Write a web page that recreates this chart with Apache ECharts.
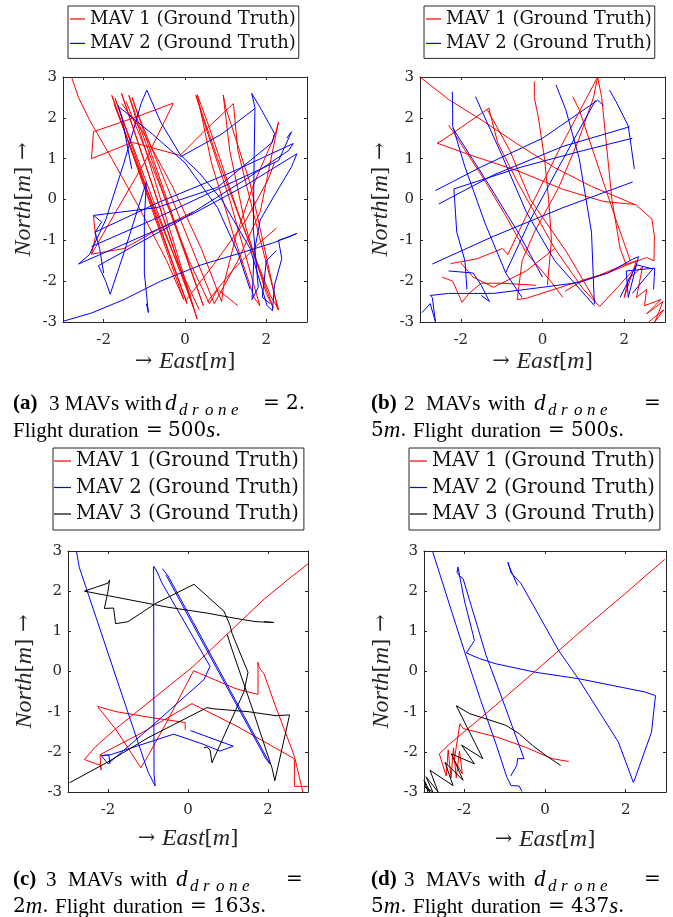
<!DOCTYPE html>
<html>
<head>
<meta charset="utf-8">
<script src="https://cdn.jsdelivr.net/npm/echarts@6/dist/echarts.min.js"></script>
<style>
html, body { margin: 0; padding: 0; background: #fff; }
#chart { width: 673px; height: 917px; }
</style>
</head>
<body>
<div id="chart"></div>
<script>
// axis ranges and ticks
const AXIS_MIN = -3
const AXIS_MAX = 3
const xTicks = [-2, 0, 2]
const yTicks = [-3, -2, -1, 0, 1, 2, 3]
const mavNames = ['MAV 1 (Ground Truth)', 'MAV 2 (Ground Truth)', 'MAV 3 (Ground Truth)']
const mavColors = ['#ff0000', '#0000ff', '#000000']

// (a) trajectories, [east, north] in m, one list per continuous piece
const a_mav1 = [
  [[-2.79,3.0],[-2.62,2.5],[-2.35,1.95],[-1.8,1.0],[-1.1,-0.25],[-0.45,-1.5],[-0.03,-2.45],[-1.8,2.55],[0.05,-2.55],[-1.72,2.48],[-1.62,2.2],[0.2,-2.62],[-1.56,2.6],[0.3,-2.93],[-1.38,2.55],[0.45,-2.6],[-1.3,2.5],[-1.2,2.2],[0.72,-2.55],[1.3,-1.5],[1.85,-0.3],[2.3,1.9],[2.22,1.6],[1.7,0.4],[1.25,-0.9],[0.95,-2.1],[0.9,-2.5],[0.4,-1.2],[-0.3,0.3],[-1.0,1.6],[-1.56,2.35]],
  [[-0.29,2.36],[-1.2,2.02],[-2.25,1.66],[-2.3,1.0],[-1.3,1.4],[-0.12,1.08],[0.5,1.7],[1.19,2.35],[1.3,1.2],[1.8,-0.8],[2.3,-2.7],[2.1,-2.35],[1.4,-0.6],[0.8,1.0],[0.27,2.55],[0.5,1.8],[1.1,0.0],[1.84,-2.6],[1.7,-2.4],[1.2,-0.9],[0.65,0.9],[0.3,2.57],[0.55,1.9],[1.3,-0.3],[2.17,-2.65],[2.0,-2.3],[1.5,-0.7],[1.1,1.2],[0.94,2.56],[1.0,2.25],[1.6,0.4],[2.0,-1.4],[2.28,-2.7]],
  [[-2.3,-1.34],[-1.7,-0.3],[-1.0,0.9],[-0.29,2.35]],
  [[0.0,-2.5],[0.7,-1.6],[1.5,-0.5],[2.05,0.5],[2.2,0.9]],
  [[0.55,-2.5],[1.2,-1.7],[1.9,-1.0],[2.25,-0.7]],
  [[-1.75,2.35],[-1.0,0.4],[-0.3,-1.3],[0.35,-2.7]],
  [[-2.25,-0.4],[-2.2,-0.9],[-2.3,-1.34],[-1.5,-1.2],[-0.6,-0.7],[0.2,-0.3]],
  [[-1.45,2.4],[-0.6,0.3],[0.1,-1.5],[0.6,-2.55],[0.8,-2.2],[1.3,-2.6]]
]
const a_mav2 = [
  [[-2.99,-2.98],[-2.3,-2.78],[-1.5,-2.45],[-0.6,-2.0],[0.4,-1.6],[1.4,-1.3],[2.2,-1.05],[2.75,-0.83],[2.6,-0.9],[2.3,-1.0],[2.38,-1.45],[2.2,-2.1],[2.15,-2.72],[2.02,-2.6],[1.6,-1.2],[0.9,0.0],[0.35,0.65],[-0.12,1.1],[-0.6,1.9],[-0.94,2.68],[-1.08,2.35],[-1.5,0.9],[-1.95,-0.5],[-2.35,-1.35],[-2.62,-1.58],[-1.4,-1.05],[0.2,-0.35],[1.5,0.35],[2.75,1.12],[2.62,0.8],[2.2,0.1],[1.85,-0.5],[1.7,-1.3],[1.65,-2.45],[1.8,-2.15],[1.68,-0.72],[1.7,1.0],[1.72,2.25],[1.64,2.6],[1.85,2.25],[2.2,1.62],[2.15,1.4],[0.8,0.3],[-0.7,-0.2],[-2.25,-0.39],[-2.05,-0.55],[-2.21,-0.8],[-0.6,-0.05],[1.1,0.65],[2.66,1.37],[2.55,1.2],[1.5,0.5],[-0.1,-0.5],[-2.13,-1.62],[-1.95,-2.0],[-1.84,-2.32],[-1.5,-1.3],[-0.95,0.43],[-1.0,-0.5],[-1.0,-1.8],[-0.9,-2.77],[-0.95,-2.55]],
  [[-1.64,2.31],[-1.55,2.0],[-1.31,0.75]],
  [[-1.6,2.25],[-0.8,1.6],[0.0,0.9],[0.8,-0.2],[1.3,-1.3],[1.6,-2.2]],
  [[1.72,2.23],[0.9,1.6],[-0.12,1.04]],
  [[-2.3,-1.15],[-0.8,-0.5],[0.9,0.3],[2.3,0.95],[2.62,1.66],[2.5,1.5]],
  [[-2.21,-0.8],[-2.1,-1.2],[-2.0,-1.8]],
  [[2.25,-1.25],[2.0,-1.5],[1.9,-2.4],[2.1,-2.55]]
]

// (b)
const b_mav1 = [
  [[-3.0,3.0],[-2.3,2.45],[-1.5,1.95],[-0.6,1.35],[0.3,0.78],[1.2,0.32],[1.9,0.03],[2.3,-0.14],[2.68,-0.48],[2.74,-0.9],[2.73,-1.5],[2.55,-1.42],[2.2,-1.55],[1.6,-1.8],[1.0,-1.98],[0.55,-2.25]],
  [[1.35,3.0],[1.25,2.5],[0.9,1.5],[0.4,0.3],[-0.2,-0.8],[-0.5,-1.5],[-0.62,-2.45],[-0.4,-2.42],[0.6,-2.1],[1.4,-1.85],[2.0,-1.6],[2.3,-1.5]],
  [[-2.58,1.38],[-2.45,1.45],[-1.31,2.24],[-1.28,2.1],[-1.1,1.4],[-0.6,0.4],[0.3,-1.2],[1.0,-2.2],[1.4,-2.62],[1.7,-2.3],[2.2,-1.75]],
  [[-2.58,1.38],[-1.8,1.1],[-0.6,0.7],[0.5,0.25],[1.5,-0.05],[2.25,-0.12]],
  [[-2.3,1.82],[-2.15,1.6],[-1.5,0.6],[-0.9,-0.4],[-0.4,-1.3],[0.2,-2.0],[0.5,-2.4]],
  [[-0.2,2.89],[-0.2,2.5],[-0.1,2.0],[0.05,1.0],[0.15,0.0],[0.22,-1.0],[0.12,-2.1]],
  [[0.74,2.52],[0.9,2.2],[1.3,1.0],[1.8,-0.5],[2.15,-1.5]],
  [[-2.46,-1.9],[-2.2,-2.0],[-1.97,-2.52],[-1.8,-2.3],[-1.5,-2.05],[-1.0,-2.05],[-0.16,-2.1]],
  [[-2.25,-1.57],[-1.6,-1.45],[-0.98,-1.2],[-0.85,-1.35],[-0.3,-0.2],[0.4,1.2],[1.35,3.0],[1.45,2.5],[1.55,1.5],[1.7,0.0],[1.9,-1.2],[2.05,-1.6]],
  [[2.3,-1.5],[2.0,-2.4],[2.1,-1.95],[2.45,-1.65],[2.3,-2.4],[2.55,-2.2],[2.5,-2.6],[2.9,-2.45],[2.55,-2.8],[2.95,-2.5],[2.75,-3.0],[2.97,-2.7],[2.6,-3.0]],
  [[-1.35,2.2],[-0.8,1.2],[-0.3,0.0],[0.6,-1.3],[1.3,-2.5]],
  [[-2.0,-1.55],[-1.7,-1.9],[-1.2,-2.15],[-0.4,-1.75],[0.3,-1.2]]
]
const b_mav2 = [
  [[-2.95,-2.77],[-2.75,-2.55],[-2.62,-3.0],[-2.7,-2.4],[-2.75,-2.35],[-2.3,-2.3],[-1.2,-2.3],[0.0,-2.15],[0.9,-2.03],[1.6,-1.8],[2.21,-1.46],[2.35,-1.4],[2.1,-2.4],[2.05,-1.75],[2.75,-1.68],[2.72,-2.2]],
  [[-2.21,2.64],[-2.2,2.2],[-2.2,1.8],[-1.9,0.8],[-1.4,-0.6],[-0.9,-1.8],[-0.5,-2.4]],
  [[-1.64,2.52],[-1.5,2.2],[-1.0,1.1],[-0.4,-0.3],[0.3,-1.5],[1.27,-2.6]],
  [[-2.62,0.22],[-1.5,0.8],[0.0,1.5],[1.35,2.43],[1.5,2.3]],
  [[-2.54,-0.11],[-1.2,0.6],[0.5,1.3],[2.13,1.78]],
  [[-2.17,0.26],[-0.5,0.8],[1.0,1.2],[2.2,1.5]],
  [[-2.7,-1.58],[-1.2,-0.9],[0.5,-0.2],[2.21,0.43]],
  [[1.64,2.68],[1.8,2.4],[2.1,1.8],[2.25,0.75]],
  [[0.33,2.81],[0.57,2.2],[0.9,1.0],[1.2,-0.8],[1.27,-2.56]],
  [[-0.9,-1.79],[-0.3,-0.5],[0.4,0.8],[1.3,2.43]],
  [[-2.3,-1.75],[-1.7,-1.8],[-1.5,-2.1],[-1.3,-2.5],[-1.5,-2.35]],
  [[-2.17,0.26],[-2.1,-0.8],[-1.9,-1.5],[-1.85,-2.2]],
  [[-2.2,1.75],[-1.4,0.5],[-0.6,-0.8],[0.0,-1.9]],
  [[1.9,-2.4],[2.3,-1.6],[2.7,-1.7],[2.2,-2.3]]
]

// (c)
const c_mav1 = [
  [[3.0,2.68],[2.6,2.37],[1.9,1.8],[1.0,0.95],[0.1,0.1],[-1.0,-0.78],[-1.8,-1.42],[-2.3,-1.86],[-2.59,-2.19],[-2.3,-2.3],[-2.2,-2.32],[-2.17,-2.45],[-2.2,-2.07],[-1.2,-1.55],[0.1,-0.8],[1.2,-1.35],[2.0,-1.8],[2.62,-2.15],[2.66,-2.2],[2.66,-2.86],[3.0,-2.86]],
  [[-2.26,-0.87],[-1.8,-1.0],[-0.9,-1.15],[-0.07,-1.27],[-0.07,-1.45]],
  [[-2.26,-0.87],[-1.8,-1.45],[-1.5,-1.9],[-1.18,-2.4],[-1.0,-2.1],[-0.5,-1.2],[0.14,0.02],[0.3,-0.05],[1.2,-0.43],[1.75,-0.57],[1.75,0.23],[1.78,0.1],[1.9,-0.06],[2.2,-0.9],[2.62,-2.0],[2.67,-2.15],[2.87,-3.0]]
]
const c_mav2 = [
  [[-2.79,3.0],[-2.72,2.6],[-2.3,1.35],[-1.6,-0.73],[-1.0,-2.5],[-0.82,-2.85],[-0.85,-2.55],[-0.86,2.62],[-0.78,2.5],[-0.65,2.2],[0.55,0.13],[0.4,-0.2],[-0.93,-1.38],[-2.0,-2.3],[-2.17,-2.09],[-1.98,-2.08],[-1.95,-2.3]],
  [[-0.64,2.56],[-0.5,2.38],[2.05,-2.3],[1.95,-2.18],[-0.55,2.4]],
  [[0.06,-1.47],[1.13,-1.86],[0.8,-1.98],[0.35,-1.8],[-0.36,-1.56],[-1.93,-2.07],[-2.17,-2.1]]
]
const c_mav3 = [
  [[-2.96,-2.77],[-2.0,-2.25],[-1.0,-1.65],[0.47,-0.9],[0.65,-0.93],[1.5,-1.0],[2.2,-1.1],[2.54,-1.08],[2.17,-2.72],[2.1,-2.4],[1.6,-0.9],[1.1,0.55],[0.98,0.92]],
  [[1.05,1.15],[1.1,0.95],[1.5,-0.02],[1.4,-0.5],[0.6,-2.27],[0.55,-1.95],[0.47,-1.88],[0.4,-1.9]],
  [[1.05,1.15],[0.9,1.5],[0.15,2.17],[-0.8,1.7],[-1.5,1.24],[-1.81,1.19],[-1.86,1.58],[-2.09,1.57],[-2.0,2.0],[-1.96,2.28],[-2.0,2.2],[-2.59,2.0],[-1.8,1.85],[-0.5,1.6],[0.5,1.45],[1.2,1.32],[1.7,1.24],[2.15,1.22],[1.9,1.24]]
]

// (d)
const d_mav1 = [
  [[2.97,2.79],[2.64,2.51],[2.0,1.95],[1.0,1.1],[0.0,0.22],[-1.0,-0.65],[-1.8,-1.33],[-2.36,-1.8],[-2.62,-2.05],[-2.45,-2.6],[-2.4,-1.95],[-2.33,-2.65],[-2.27,-1.9],[-2.2,-2.65],[-2.12,-1.98],[-2.05,-2.55],[-2.25,-2.2],[-2.11,-1.3],[-2.03,-1.42],[-1.2,-1.63],[-0.5,-1.88],[0.18,-2.17],[0.59,-2.24]]
]
const d_mav2 = [
  [[-2.79,3.0],[-2.6,2.4],[-2.3,1.45],[-1.99,0.48],[-1.6,-0.7],[-1.2,-1.85],[-0.95,-2.62],[-0.84,-2.84],[-0.64,-2.85],[-0.57,-2.99]],
  [[-0.68,2.14],[-0.86,2.55],[-0.92,2.72],[-0.84,2.45],[-0.6,2.2],[0.34,0.52],[0.84,-0.2],[1.82,-1.76],[2.19,-2.76],[2.23,-2.67],[2.64,-1.51],[2.74,-0.6],[2.48,-0.51],[0.84,-0.18],[-0.23,-0.02],[-1.21,0.19],[-1.62,0.32],[-1.95,0.46],[-1.75,0.77],[-1.79,0.94],[-1.99,1.73],[-2.16,2.6],[-2.18,2.47],[-2.13,2.39],[-2.03,2.31],[-1.46,0.4],[-0.97,-0.93],[-0.64,-1.84],[-0.52,-2.17],[-0.68,-2.17],[-0.7,-2.34],[-0.85,-2.6]]
]
const d_mav3 = [
  [[0.39,-2.34],[0.02,-2.09],[-0.31,-1.84],[-0.64,-1.55],[-0.97,-1.34],[-1.46,-1.18],[-1.87,-1.05],[-2.2,-0.85],[-1.54,-2.17],[-2.07,-1.83],[-1.75,-2.3],[-2.32,-2.05],[-2.03,-2.71],[-2.48,-2.26],[-2.28,-2.84],[-2.85,-2.46],[-2.65,-3.0],[-2.95,-2.62],[-2.78,-3.0],[-3.0,-2.85],[-2.85,-3.0],[-3.0,-2.7],[-2.9,-3.0]]
]

const AXIS_COLOR = '#262626'
const SERIF = 'DejaVu Serif'
const TIMES = 'Liberation Serif'

const panels = [
  { grid: { left: 63, top: 77, width: 244, height: 245 }, xGap: 28, yGap: 27, mavs: [a_mav1, a_mav2],
    legend: { left: 68, top: 6, fontSize: 18, lineHeight: 22, gap: 2.4, iconW: 15, padding: [2, 3, 4, 2] } },
  { grid: { left: 420, top: 77, width: 245, height: 245 }, xGap: 28, yGap: 27, mavs: [b_mav1, b_mav2],
    legend: { left: 424, top: 6, fontSize: 18, lineHeight: 22, gap: 2.4, iconW: 15, padding: [2, 3, 4, 2] } },
  { grid: { left: 68, top: 551, width: 240, height: 241 }, xGap: 35, yGap: 31, mavs: [c_mav1, c_mav2, c_mav3],
    legend: { left: 53, top: 448, fontSize: 19.5, lineHeight: 24, gap: 2.5, iconW: 17, padding: [1, 5, 4, 1] } },
  { grid: { left: 424, top: 551, width: 242, height: 241 }, xGap: 36, yGap: 30, mavs: [d_mav1, d_mav2, d_mav3],
    legend: { left: 409, top: 448, fontSize: 19.5, lineHeight: 24, gap: 2.5, iconW: 17, padding: [1, 5, 4, 1] } }
]

const nameRich = {
  i: { fontFamily: TIMES, fontStyle: 'italic', fontSize: 24, color: '#262626' }
}

const grid = [], xAxis = [], yAxis = [], series = [], legend = []
panels.forEach((p, i) => {
  grid.push(Object.assign({ containLabel: false }, p.grid))
  const common = {
    gridIndex: i, type: 'value', min: AXIS_MIN, max: AXIS_MAX, interval: 1,
    splitLine: { show: false },
    axisLine: { show: true, onZero: false, lineStyle: { color: AXIS_COLOR, width: 1 } }
  }
  xAxis.push(Object.assign({}, common, {
    position: 'bottom',
    axisTick: { show: true, inside: true, length: 3, customValues: xTicks, lineStyle: { color: AXIS_COLOR } },
    axisLabel: { customValues: xTicks, margin: 11, fontFamily: SERIF, fontSize: 15, color: AXIS_COLOR, formatter: v => String(v) },
    name: '→ {i|East}[{i|m}]', nameLocation: 'middle', nameGap: p.xGap,
    nameTextStyle: { fontFamily: SERIF, fontSize: 21, color: '#262626', rich: nameRich }
  }))
  xAxis.push(Object.assign({}, common, {
    position: 'top',
    axisTick: { show: true, inside: true, length: 3, customValues: xTicks, lineStyle: { color: AXIS_COLOR } },
    axisLabel: { show: false }
  }))
  yAxis.push(Object.assign({}, common, {
    position: 'left',
    axisTick: { show: true, inside: true, length: 3, lineStyle: { color: AXIS_COLOR } },
    axisLabel: { margin: 6, fontFamily: SERIF, fontSize: 15, color: AXIS_COLOR, formatter: v => String(v) },
    name: '{i|North}[{i|m}] →', nameLocation: 'middle', nameGap: p.yGap, nameRotate: 90,
    nameTextStyle: { fontFamily: SERIF, fontSize: 21, color: '#262626', rich: nameRich }
  }))
  yAxis.push(Object.assign({}, common, {
    position: 'right',
    axisTick: { show: true, inside: true, length: 3, lineStyle: { color: AXIS_COLOR } },
    axisLabel: { show: false }
  }))

  p.mavs.forEach((pieces, m) => {
    pieces.forEach(seg => {
      series.push({
        type: 'line', name: mavNames[m], data: seg,
        xAxisIndex: 2 * i, yAxisIndex: 2 * i,
        showSymbol: false, symbol: 'none', smooth: false, clip: true,
        color: mavColors[m],
        lineStyle: { color: mavColors[m], width: 1 },
        emphasis: { disabled: true }
      })
    })
  })

  const L = p.legend
  legend.push({
    data: mavNames.slice(0, p.mavs.length),
    orient: 'vertical', left: L.left, top: L.top,
    icon: 'rect', itemWidth: L.iconW, itemHeight: 1.2, itemGap: L.gap,
    padding: L.padding, borderColor: AXIS_COLOR, borderWidth: 1, backgroundColor: '#fff',
    selectedMode: false,
    textStyle: { fontFamily: SERIF, fontSize: L.fontSize, lineHeight: L.lineHeight, color: '#111' }
  })
})

// captions (sub-figure labels)
const capRich = {
  b: { fontFamily: TIMES, fontSize: 21, fontWeight: 'bold', fill: '#000' },
  r: { fontFamily: TIMES, fontSize: 21, fill: '#000' },
  m: { fontFamily: SERIF, fontSize: 20, fill: '#000' },
  mi: { fontFamily: TIMES, fontSize: 23, fontStyle: 'italic', fill: '#000' }
}
function capText(x, y, text) {
  return { type: 'text', x: x, y: y, silent: true,
    style: { text: text, rich: capRich, verticalAlign: 'middle', fontFamily: TIMES, fontSize: 21, fill: '#000' } }
}
function subText(x, y, word) {
  return word.split('').map((ch, k) => ({ type: 'text', x: x + k * 13, y: y, silent: true,
    style: { text: ch, fontFamily: TIMES, fontSize: 17, fontStyle: 'italic', fill: '#000', verticalAlign: 'middle' } }))
}
function captionLine1(x0, y, tag, n) {
  return [
    capText(x0, y, '{b|(' + tag + ')}'),
    capText(x0 + 33, y, '{r|' + n + '}'),
    capText(x0 + 55, y, '{r|MAVs}'),
    capText(x0 + 117, y, '{r|with}'),
    capText(x0 + 163, y, '{mi|d}')
  ].concat(subText(x0 + 177, y + 7, 'drone'), [capText(x0 + 273, y, '{m|=}')])
}
function captionLine2(x0, y, dist, dur) {
  return [
    capText(x0, y, '{m|' + dist + '}{mi|m}{m|.}'),
    capText(x0 + 42, y, '{r|Flight}'),
    capText(x0 + 100, y, '{r|duration}'),
    capText(x0 + 177, y, '{m|=}'),
    capText(x0 + 200, y, '{m|' + dur + '}{mi|s}{m|.}')
  ]
}

const graphic = [].concat(
  [capText(13, 404, '{b|(a)}'), capText(49, 404, '{r|3 MAVs with}'), capText(165, 404, '{mi|d}')],
  subText(179, 411, 'drone'),
  [capText(263, 404, '{m|=}'), capText(286, 404, '{m|2.}')],
  [capText(13, 431, '{r|Flight duration}'), capText(146, 431, '{m|=}'), capText(168, 431, '{m|500}{mi|s}{m|.}')],
  captionLine1(371, 404, 'b', '2'),
  captionLine2(371, 431, '5', '500'),
  captionLine1(13, 880, 'c', '3'),
  captionLine2(13, 907, '2', '163'),
  captionLine1(371, 880, 'd', '3'),
  captionLine2(371, 907, '5', '437')
)

const chart = echarts.init(document.getElementById('chart'), null, { renderer: 'canvas' })
chart.setOption({
  backgroundColor: '#fff',
  animation: false,
  grid: grid,
  xAxis: xAxis,
  yAxis: yAxis,
  legend: legend,
  series: series,
  graphic: graphic
})
</script>
</body>
</html>
